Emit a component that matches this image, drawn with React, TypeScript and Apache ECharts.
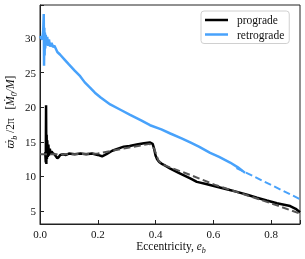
import React, { useEffect, useRef } from 'react';
import * as echarts from 'echarts';

// Prograde (black, solid)
const proE = [0.018, 0.02, 0.021, 0.022, 0.023, 0.024, 0.025, 0.027, 0.029, 0.031, 0.034, 0.037, 0.04, 0.045, 0.05, 0.055, 0.06, 0.065, 0.07, 0.08, 0.09, 0.1, 0.12, 0.14, 0.16, 0.18, 0.2, 0.215, 0.23, 0.25, 0.27, 0.29, 0.31, 0.335, 0.36, 0.38, 0.39, 0.395, 0.4, 0.405, 0.41, 0.415, 0.422, 0.435, 0.451, 0.48, 0.52, 0.543, 0.575, 0.612, 0.65, 0.682, 0.72, 0.751, 0.785, 0.82, 0.845, 0.866, 0.885, 0.9];
const proV = [13.5, 12.0, 20.3, 11.8, 16.0, 12.5, 15.2, 12.8, 14.6, 13.0, 14.0, 13.2, 13.6, 13.3, 13.2, 12.9, 12.6, 12.8, 13.1, 13.2, 13.1, 13.3, 13.2, 13.3, 13.2, 13.3, 13.1, 12.9, 13.2, 13.7, 14.0, 14.3, 14.4, 14.6, 14.8, 14.9, 14.7, 14.0, 13.0, 12.5, 12.2, 12.0, 11.8, 11.5, 11.1, 10.5, 9.7, 9.2, 8.9, 8.5, 8.1, 7.75, 7.3, 6.9, 6.5, 6.1, 5.9, 5.7, 5.3, 4.8];

// Prograde model (grey, dashed)
const proFitE = [0, 0.1, 0.2, 0.3, 0.38, 0.395, 0.41, 0.425, 0.45, 0.52, 0.61, 0.68, 0.75, 0.82, 0.9];
const proFitV = [13.2, 13.2, 13.3, 14.1, 14.7, 14.0, 12.3, 11.7, 11.3, 10.2, 8.7, 7.75, 6.8, 5.8, 4.6];

// Retrograde (blue, solid)
const retE = [0, 0.004, 0.008, 0.011, 0.013, 0.014, 0.015, 0.016, 0.017, 0.018, 0.02, 0.022, 0.025, 0.028, 0.031, 0.035, 0.04, 0.045, 0.05, 0.06, 0.07, 0.085, 0.1, 0.12, 0.139, 0.155, 0.174, 0.19, 0.21, 0.243, 0.28, 0.312, 0.35, 0.381, 0.42, 0.451, 0.49, 0.52, 0.55, 0.589, 0.62, 0.658, 0.685, 0.71];
const retV = [30.3, 30.0, 29.8, 31.0, 33.5, 26.0, 31.5, 27.5, 30.8, 28.5, 30.5, 29.0, 30.2, 28.9, 29.8, 28.8, 29.3, 28.7, 28.9, 28.0, 27.6, 26.9, 26.2, 25.3, 24.5, 23.6, 22.8, 22.1, 21.4, 20.4, 19.6, 18.9, 18.1, 17.4, 16.8, 16.2, 15.5, 14.9, 14.3, 13.4, 12.8, 12.0, 11.3, 10.5];

// Retrograde model (blue, dashed)
const retFitE = [0.68, 0.71, 0.9];
const retFitV = [11.2, 10.6, 6.7];

const xTicks = [0, 0.2, 0.4, 0.6, 0.8];
const yTicks = [5, 10, 15, 20, 25, 30];

const FONT = 'Liberation Serif';
const BLUE = '#48a2fb';

export default function App() {
  const ref = useRef<HTMLDivElement>(null);
  useEffect(() => {
    const chart = echarts.init(ref.current!, null, { renderer: 'svg' });
    const zip = (xs: number[], ys: number[]) => xs.map((x, i) => [x, ys[i]]);
    const near = (v: number, arr: number[]) => arr.some((t) => Math.abs(t - v) < 1e-6);
    const lbl = { fontFamily: FONT, fontSize: 11.5, color: '#111' };
    const rich = {
      i: { fontFamily: FONT, fontSize: 11.5, fontStyle: 'italic', verticalAlign: 'bottom', padding: [0, 0, 3, 0], color: '#111' },
      w: { fontFamily: 'DejaVu Serif', fontSize: 10.5, fontStyle: 'italic', verticalAlign: 'bottom', padding: [0, 0, 3, 0], color: '#111' },
      n: { fontFamily: FONT, fontSize: 11.5, verticalAlign: 'bottom', padding: [0, 0, 3, 0], color: '#111' },
      s: { fontFamily: FONT, fontSize: 8, fontStyle: 'italic', verticalAlign: 'bottom', color: '#111' },
    };
    chart.setOption({
      animation: false,
      grid: { left: 40, top: 5, right: 5, bottom: 35, show: true, borderColor: '#222', borderWidth: 1, backgroundColor: 'transparent' },
      xAxis: {
        type: 'value', min: 0, max: 0.9, interval: 0.2,
        axisLine: { show: true, lineStyle: { color: '#222', width: 1 } },
        axisTick: { show: true, inside: true, length: 4, lineStyle: { color: '#222' } },
        axisLabel: { ...lbl, fontSize: 11, margin: 4, formatter: (v: number) => (near(v, xTicks) ? v.toFixed(1) : '') },
        splitLine: { show: false },
      },
      yAxis: {
        type: 'value', min: 3.1, max: 34.8, splitNumber: 6,
        axisLine: { show: true, lineStyle: { color: '#222', width: 1 } },
        axisTick: { show: true, inside: true, length: 4, lineStyle: { color: '#222' } },
        axisLabel: { ...lbl, fontSize: 11, margin: 4, formatter: (v: number) => (near(v, yTicks) ? String(v) : '') },
        splitLine: { show: false },
      },
      legend: {
        data: ['prograde', 'retrograde'],
        orient: 'vertical',
        left: 201, top: 11,
        icon: 'rect',
        itemWidth: 23, itemHeight: 2.5,
        itemGap: 2.5,
        padding: [3, 5, 3, 4],
        borderColor: '#d0d0d0', borderWidth: 1, borderRadius: 3,
        backgroundColor: 'rgba(255,255,255,0.85)',
        textStyle: { ...lbl, padding: [0, 0, 0, 4] },
      },
      series: [
        { name: 'prograde', type: 'line', data: zip(proE, proV), showSymbol: false, symbol: 'none', lineStyle: { color: '#000', width: 2.5 }, itemStyle: { color: '#000' }, z: 2 },
        { name: 'retrograde', type: 'line', data: zip(retE, retV), showSymbol: false, symbol: 'none', lineStyle: { color: BLUE, width: 2.5 }, itemStyle: { color: BLUE }, z: 2 },
        { name: 'proFit', type: 'line', data: zip(proFitE, proFitV), showSymbol: false, symbol: 'none', lineStyle: { color: '#555', width: 2, type: [7, 3.5] }, z: 3 },
        { name: 'retFit', type: 'line', data: zip(retFitE, retFitV), showSymbol: false, symbol: 'none', lineStyle: { color: BLUE, width: 2, type: [7, 3.5] }, z: 3 },
      ],
      graphic: [
        {
          type: 'text', x: 11, y: 112, rotation: Math.PI / 2,
          style: {
            text: '{w|ϖ̇}{s|b}{n| /2π   [}{i|Ṁ}{s|0}{i|/M}{n|]}',
            align: 'center', verticalAlign: 'middle', textAlign: 'center', textVerticalAlign: 'middle',
            fontFamily: FONT, fontSize: 11.5, fill: '#111',
            rich,
          },
        },
        {
          type: 'text', x: 171, y: 247,
          style: {
            text: '{n|Eccentricity, }{i|e}{s|b}',
            align: 'center', verticalAlign: 'middle', textAlign: 'center', textVerticalAlign: 'middle',
            fontFamily: FONT, fontSize: 11.5, fill: '#111',
            rich,
          },
        },
      ],
    });
    return () => chart.dispose();
  }, []);
  return <div ref={ref} style={{ position: 'fixed', left: 0, top: 0, width: 305, height: 259 }} />;
}
